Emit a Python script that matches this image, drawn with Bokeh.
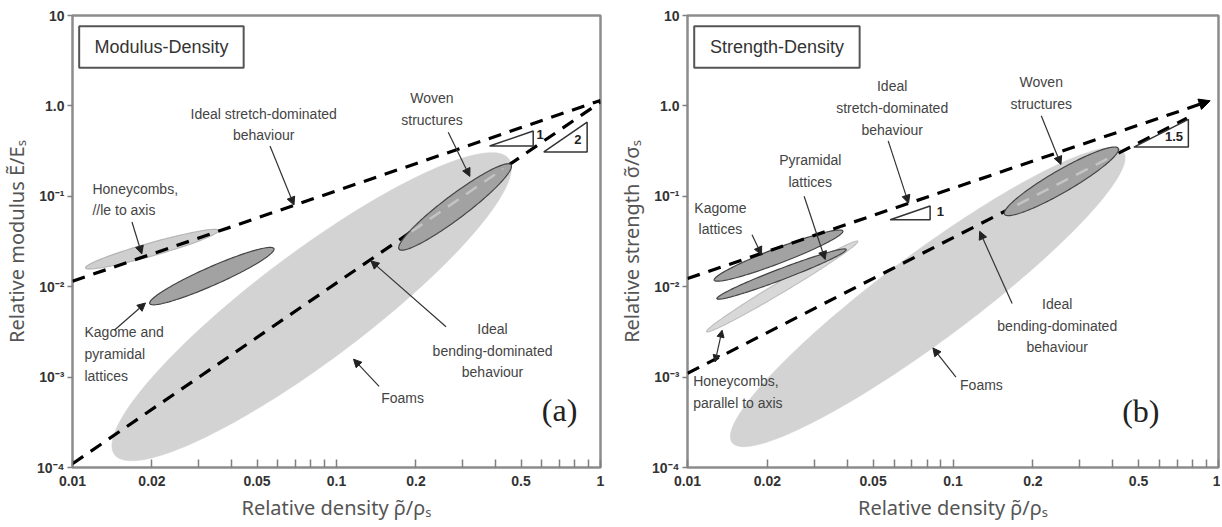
import numpy as np
from bokeh.plotting import figure
from bokeh.models import (Range1d, FixedTicker, Arrow, NormalHead, BoxAnnotation,
                          ColumnDataSource, CustomJSTickFormatter)
from bokeh.layouts import row
from bokeh.core.properties import value
from bokeh.embed import file_html
from bokeh.resources import INLINE

# ---------------- axis ticks ----------------
X_TICKS = [0.01, 0.02, 0.05, 0.1, 0.2, 0.5, 1.0]
X_TICK_LABELS = ["0.01", "0.02", "0.05", "0.1", "0.2", "0.5", "1"]
X_MINOR = [0.03, 0.04, 0.06, 0.07, 0.08, 0.09, 0.3, 0.4, 0.6, 0.7, 0.8, 0.9]
Y_TICKS = [1e-4, 1e-3, 1e-2, 1e-1, 1.0, 10.0]
Y_TICK_LABELS = ["10⁻⁴", "10⁻³", "10⁻²", "10⁻¹", "1.0", "10"]

# ---------------- panel (a): modulus ----------------
A_STRETCH_X = [0.01, 1.0]
A_STRETCH_Y = [0.0115, 1.15]
A_BEND_X = [0.01, 1.0]
A_BEND_Y = [1.1e-4, 1.1]
# ellipses: x_left, y_left, x_right, y_right, vertical half-thickness (decades)
A_FOAMS = [0.0141, 1.75e-4, 0.46, 0.206, 0.74]
A_HONEY = [0.0112, 0.0162, 0.0358, 0.0418, 0.075]
A_KAGOME = [0.0196, 0.0066, 0.058, 0.026, 0.11]
A_WOVEN = [0.172, 0.027, 0.46, 0.215, 0.16]
A_TRI1_X = [0.38, 0.556, 0.556]
A_TRI1_Y = [0.36, 0.36, 0.527]
A_TRI2_X = [0.61, 0.89, 0.89]
A_TRI2_Y = [0.31, 0.31, 0.66]
A_TEXT_C = ["Ideal stretch-dominated\nbehaviour", "Woven\nstructures",
            "Ideal\nbending-dominated\nbehaviour", "Foams"]
A_TEXT_C_X = [0.053, 0.23, 0.39, 0.178]
A_TEXT_C_Y = [0.62, 0.93, 0.00195, 5.9e-4]
A_TEXT_L = ["Honeycombs,\n//le to axis", "Kagome and\npyramidal\nlattices"]
A_TEXT_L_X = [0.0119, 0.0111]
A_TEXT_L_Y = [0.092, 0.0018]
A_SLOPE_TXT = ["1", "2"]
A_SLOPE_X = [0.59, 0.82]
A_SLOPE_Y = [0.48, 0.42]
A_ARR_X0 = [0.056, 0.265, 0.0168, 0.0144, 0.26, 0.145]
A_ARR_Y0 = [0.36, 0.51, 0.052, 0.0033, 0.0036, 7.9e-4]
A_ARR_X1 = [0.069, 0.32, 0.0183, 0.0189, 0.135, 0.116]
A_ARR_Y1 = [0.08, 0.166, 0.023, 0.0066, 0.0193, 1.58e-3]
A_TAG = ["(a)", 0.70, 4.3e-4]

# ---------------- panel (b): strength ----------------
B_STRETCH_X = [0.01, 0.93]
B_STRETCH_Y = [0.0123, 1.14]
B_BEND_X = [0.01, 0.76]
B_BEND_Y = [1.1e-3, 0.73]
B_FOAMS = [0.0145, 2.2e-4, 0.445, 0.267, 0.6]
B_HONEY = [0.0118, 0.0032, 0.0438, 0.0316, 0.07]
B_PYRAM = [0.0129, 0.0074, 0.0396, 0.0257, 0.065]
B_KAGOME = [0.0126, 0.0119, 0.0385, 0.041, 0.09]
B_WOVEN = [0.156, 0.065, 0.42, 0.33, 0.14]
B_TRI1_X = [0.058, 0.082, 0.082]
B_TRI1_Y = [0.055, 0.055, 0.078]
B_TRI2_X = [0.48, 0.77, 0.77]
B_TRI2_Y = [0.35, 0.35, 0.71]
B_TEXT_C = ["Ideal\nstretch-dominated\nbehaviour", "Woven\nstructures",
            "Pyramidal\nlattices", "Kagome\nlattices",
            "Ideal\nbending-dominated\nbehaviour", "Foams"]
B_TEXT_C_X = [0.059, 0.215, 0.029, 0.0133, 0.247, 0.128]
B_TEXT_C_Y = [0.95, 1.38, 0.19, 0.057, 0.0037, 8.1e-4]
B_TEXT_L = ["Honeycombs,\nparallel to axis"]
B_TEXT_L_X = [0.0105]
B_TEXT_L_Y = [6.8e-4]
B_SLOPE_TXT = ["1", "1.5"]
B_SLOPE_X = [0.0896, 0.68]
B_SLOPE_Y = [0.068, 0.455]
B_ARR_X0 = [0.057, 0.215, 0.0275, 0.0175, 0.167, 0.1026]
B_ARR_Y0 = [0.41, 0.78, 0.1, 0.0375, 0.0065, 1e-3]
B_ARR_X1 = [0.068, 0.255, 0.033, 0.019, 0.126, 0.084]
B_ARR_Y1 = [0.084, 0.225, 0.02, 0.0225, 0.041, 2.1e-3]
B_HC_ARR = [0.0127, 1.47e-3, 0.0135, 3.3e-3]
B_TAG = ["(b)", 0.51, 4.2e-4]

BOX_X = [0.0106, 0.0445]
BOX_Y = [2.65, 7.6]

LIGHT = "#d3d3d3"
DARK = "#a2a2a2"
FONT = "Liberation Sans"
TITLE_FONT = "Noto Sans"


def ellipse_pts(e, n=160):
    x1, y1, x2, y2, h = e
    lx1, ly1, lx2, ly2 = np.log10([x1, y1, x2, y2])
    cx, cy = (lx1 + lx2) / 2, (ly1 + ly2) / 2
    ux, uy = (lx2 - lx1) / 2, (ly2 - ly1) / 2
    t = np.linspace(0, 2 * np.pi, n)
    return 10 ** (cx + ux * np.cos(t)), 10 ** (cy + uy * np.cos(t) + h * np.sin(t))


def line_at(xs, ys, x):
    lx, ly = np.log10(xs), np.log10(ys)
    s = (ly[1] - ly[0]) / (lx[1] - lx[0])
    return 10 ** (ly[0] + s * (np.log10(x) - lx[0]))


def tick_fmt(tvals, tlabels):
    return CustomJSTickFormatter(args=dict(tvals=tvals, tlabels=tlabels), code="""
        const i = tvals.findIndex(t => Math.abs(Math.log10(t) - Math.log10(tick)) < 1e-6);
        return i >= 0 ? tlabels[i] : '';
    """)


def make_fig(width, bl, br, bt, bb, ylabel):
    p = figure(width=width, height=525, x_axis_type="log", y_axis_type="log",
               x_range=Range1d(0.01, 1.0), y_range=Range1d(1e-4, 10.0),
               output_backend="svg", toolbar_location=None,
               min_border_left=bl, min_border_right=br, min_border_top=bt,
               min_border_bottom=bb)
    p.grid.visible = False
    p.outline_line_color = "#8c8c8c"
    p.outline_line_width = 2.5
    p.background_fill_color = "white"
    p.border_fill_color = "white"
    xa, ya = p.xaxis[0], p.yaxis[0]
    xa.ticker = FixedTicker(ticks=X_TICKS, minor_ticks=X_MINOR)
    xa.formatter = tick_fmt(X_TICKS, X_TICK_LABELS)
    ya.ticker = FixedTicker(ticks=Y_TICKS, minor_ticks=[])
    ya.formatter = tick_fmt(Y_TICKS, Y_TICK_LABELS)
    for ax in (xa, ya):
        ax.axis_line_color = None
        ax.major_label_text_font = FONT
        ax.major_label_text_font_style = "bold"
        ax.major_label_text_font_size = "14px"
        ax.major_label_text_color = "#333333"
        ax.axis_label_text_font = TITLE_FONT
        ax.axis_label_text_font_style = "normal"
        ax.axis_label_text_font_size = "20px"
        ax.axis_label_text_color = "#555555"
        ax.major_tick_line_color = "#808080"
        ax.minor_tick_line_color = "#808080"
        ax.major_tick_line_width = 1.5
        ax.minor_tick_line_width = 1.5
    xa.major_tick_in, xa.major_tick_out = 8, 0
    xa.minor_tick_in, xa.minor_tick_out = 8, 0
    xa.major_label_standoff = 8
    xa.axis_label_standoff = 5
    xa.axis_label = "Relative density ρ̃/ρₛ"
    ya.major_tick_in, ya.major_tick_out = 0, 5
    ya.minor_tick_line_color = None
    ya.major_label_standoff = 3
    ya.axis_label_standoff = 4
    ya.axis_label = ylabel
    return p


def add_ellipse(p, e, fill, outline=None):
    xs, ys = ellipse_pts(e)
    p.patch(xs, ys, fill_color=fill, line_color=outline or fill,
            line_width=1.2 if outline else 0.5)


def add_texts(p, xs, ys, texts, align):
    src = ColumnDataSource(dict(x=xs, y=ys, text=texts))
    p.text(x="x", y="y", text="text", source=src, text_align=align,
           text_baseline="middle", text_font=value(FONT), text_font_size="14px",
           text_color="#444444", text_line_height=1.35)


def add_arrows(p, x0, y0, x1, y1):
    src = ColumnDataSource(dict(x0=x0, y0=y0, x1=x1, y1=y1))
    p.add_layout(Arrow(x_start="x0", y_start="y0", x_end="x1", y_end="y1", source=src,
                       line_color="#333333", line_width=1.2,
                       end=NormalHead(size=8, fill_color="#222222", line_color="#222222")))


def add_box(p, text):
    p.add_layout(BoxAnnotation(left=BOX_X[0], right=BOX_X[1], bottom=BOX_Y[0], top=BOX_Y[1],
                               fill_color="white", fill_alpha=1.0, line_alpha=1.0,
                               line_color="#555555", line_width=2, level="underlay"))
    gx = 10 ** np.mean(np.log10(BOX_X))
    gy = 10 ** np.mean(np.log10(BOX_Y))
    p.text(x=[gx], y=[gy], text=[text], text_align="center", text_baseline="middle",
           text_font=value(FONT), text_font_size="18px", text_color="#333333")


def add_tag(p, tag):
    p.text(x=[tag[1]], y=[tag[2]], text=[tag[0]], text_align="center",
           text_baseline="middle", text_font=value("Liberation Serif"),
           text_font_size="32px", text_color="#222222")


DASH = "13 9"

# ================= panel (a) =================
pa = make_fig(615, 69, 15, 15, 58, "Relative modulus Ẽ/Eₛ")
add_ellipse(pa, A_FOAMS, LIGHT)
add_ellipse(pa, A_HONEY, "#cfcfcf", "#b5b5b5")
pa.line(A_STRETCH_X, A_STRETCH_Y, line_color="black", line_width=3.2, line_dash=DASH)
pa.line(A_BEND_X, A_BEND_Y, line_color="black", line_width=3.2, line_dash=DASH)
add_ellipse(pa, A_KAGOME, DARK, "#444444")
add_ellipse(pa, A_WOVEN, DARK, "#444444")
wx = [A_WOVEN[0] * 1.12, A_WOVEN[2] * 0.93]
pa.line(wx, [line_at(A_BEND_X, A_BEND_Y, v) for v in wx], line_color="#c4c4c4",
        line_width=2.5, line_dash=DASH)
pa.patch(A_TRI1_X, A_TRI1_Y, fill_color="white", line_color="#333333", line_width=1.5)
pa.patch(A_TRI2_X, A_TRI2_Y, fill_color="white", line_color="#333333", line_width=1.5)
pa.text(x=A_SLOPE_X, y=A_SLOPE_Y, text=A_SLOPE_TXT, text_align="center",
        text_baseline="middle", text_font=value(FONT), text_font_style="bold",
        text_font_size="13px", text_color="#222222")
add_texts(pa, A_TEXT_C_X, A_TEXT_C_Y, A_TEXT_C, "center")
add_texts(pa, A_TEXT_L_X, A_TEXT_L_Y, A_TEXT_L, "left")
add_arrows(pa, A_ARR_X0, A_ARR_Y0, A_ARR_X1, A_ARR_Y1)
add_tag(pa, A_TAG)
add_box(pa, "Modulus-Density")

# ================= panel (b) =================
pb = make_fig(605, 69, 2, 11, 56, "Relative strength σ̃/σₛ")
add_ellipse(pb, B_FOAMS, LIGHT)
add_ellipse(pb, B_HONEY, "#d8d8d8", "#c0c0c0")
pb.line(B_BEND_X, B_BEND_Y, line_color="black", line_width=3.2, line_dash=DASH)
pb.add_layout(Arrow(x_start=B_STRETCH_X[0], y_start=B_STRETCH_Y[0],
                    x_end=B_STRETCH_X[1], y_end=B_STRETCH_Y[1],
                    line_color="black", line_width=3.2, line_dash=DASH,
                    end=NormalHead(size=11, fill_color="black", line_color="black")))
add_ellipse(pb, B_PYRAM, DARK, "#444444")
add_ellipse(pb, B_KAGOME, DARK, "#444444")
add_ellipse(pb, B_WOVEN, DARK, "#444444")
wxb = [B_WOVEN[0] * 1.12, B_WOVEN[2] * 0.93]
pb.line(wxb, [line_at(B_BEND_X, B_BEND_Y, v) for v in wxb], line_color="#c4c4c4",
        line_width=2.5, line_dash=DASH)
pb.patch(B_TRI1_X, B_TRI1_Y, fill_color="white", line_color="#333333", line_width=1.5)
pb.patch(B_TRI2_X, B_TRI2_Y, fill_color="white", line_color="#333333", line_width=1.5)
pb.text(x=B_SLOPE_X, y=B_SLOPE_Y, text=B_SLOPE_TXT, text_align="center",
        text_baseline="middle", text_font=value(FONT), text_font_style="bold",
        text_font_size="13px", text_color="#222222")
add_texts(pb, B_TEXT_C_X, B_TEXT_C_Y, B_TEXT_C, "center")
add_texts(pb, B_TEXT_L_X, B_TEXT_L_Y, B_TEXT_L, "left")
add_arrows(pb, B_ARR_X0, B_ARR_Y0, B_ARR_X1, B_ARR_Y1)
pb.add_layout(Arrow(x_start=B_HC_ARR[0], y_start=B_HC_ARR[1], x_end=B_HC_ARR[2],
                    y_end=B_HC_ARR[3], line_color="#333333", line_width=1.2,
                    start=NormalHead(size=7, fill_color="#222222", line_color="#222222"),
                    end=NormalHead(size=7, fill_color="#222222", line_color="#222222")))
add_tag(pb, B_TAG)
add_box(pb, "Strength-Density")

layout = row(pa, pb)
open("out.html", "w").write(file_html(layout, INLINE))
